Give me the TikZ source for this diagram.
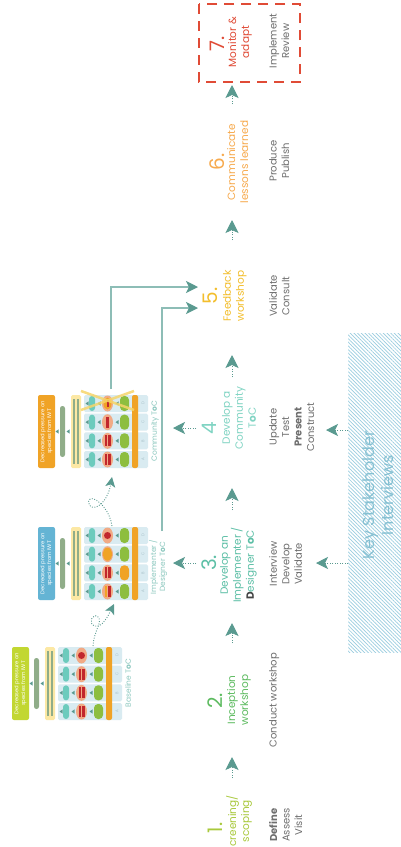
\documentclass[tikz,border=0pt]{standalone}
\usepackage{fontspec}
\setmainfont{Poppins}
\usetikzlibrary{arrows.meta,patterns.meta}
\definecolor{arrteal}{HTML}{5A9A90}
\definecolor{linecol}{HTML}{8DBDB6}
\definecolor{cone}{HTML}{A9C93C}
\definecolor{ctwo}{HTML}{5DBB60}
\definecolor{cthree}{HTML}{5CBFA6}
\definecolor{cfour}{HTML}{80D4C3}
\definecolor{cfive}{HTML}{F3BE2C}
\definecolor{csix}{HTML}{F7AA4E}
\definecolor{cseven}{HTML}{E04B36}
\definecolor{actgray}{HTML}{6E6E6E}
\definecolor{darkgray}{HTML}{444444}
\definecolor{hatchcol}{HTML}{9ACDE0}
\definecolor{ksitext}{HTML}{85C0D2}
\definecolor{toclbl}{HTML}{8CC8BF}
\definecolor{rowbg}{HTML}{D9EBF1}
\definecolor{tealpill}{HTML}{6CCBBD}
\definecolor{greenpill}{HTML}{8DBE3F}
\definecolor{salmon}{HTML}{F1AA85}
\definecolor{redc}{HTML}{C1272D}
\definecolor{orangec}{HTML}{F0A326}
\definecolor{yellowbox}{HTML}{FCE8A4}
\definecolor{bargreen}{HTML}{90AD89}
\definecolor{limebox}{HTML}{C2D732}
\definecolor{bluebox}{HTML}{64B4D4}
\definecolor{lettergray}{HTML}{A9C2CA}
\definecolor{crossy}{HTML}{F6D56A}

\newcommand{\tocTri}[2]{\fill[arrteal] ({#1},{#2}) -- ({#1+3.2},{#2-2.2}) -- ({#1+3.2},{#2+2.2}) -- cycle;}
\newcommand{\tocRow}[5]{%
  \fill[rowbg, rounded corners=1.5pt] ({#1},{#2}) rectangle ({#1+64},{#2+17});
  \fill[tealpill, rounded corners=3pt] ({#1+5},{#2+1}) rectangle ({#1+11},{#2+16});
  \fill[#4, rounded corners=4pt] ({#1+36},{#2+1}) rectangle ({#1+45},{#2+16});
  \fill[salmon] ({#1+23.5},{#2+8.5}) ellipse [x radius=5.5pt, y radius=8pt];
  \tocTri{#1+1.5}{#2+8.5}\tocTri{#1+13.5}{#2+8.5}\tocTri{#1+31.5}{#2+8.5}
  \node[rt, font=\fontsize{4}{4}\selectfont, text=lettergray] (#5#3) at ({#1+59},{#2+8.5}) {#3};
}
\newcommand{\hRedDot}[2]{\fill[redc] ({#1+23.5},{#2+8.5}) circle [radius=3.5pt];}
\newcommand{\hTwoBars}[2]{\fill[redc] ({#1+20.5},{#2+3}) rectangle ({#1+22.8},{#2+14}); \fill[redc] ({#1+24.2},{#2+3}) rectangle ({#1+26.5},{#2+14});}
\newcommand{\hOneBar}[2]{\fill[redc] ({#1+22.4},{#2+3}) rectangle ({#1+24.6},{#2+14});}
\newcommand{\hOrange}[2]{\fill[orangec] ({#1+23.5},{#2+8.5}) ellipse [x radius=4.5pt, y radius=6.5pt];}
\newcommand{\hRedOrange}[2]{\fill[orangec] ({#1+20.5},{#2+3}) rectangle ({#1+22.8},{#2+14}); \fill[redc] ({#1+24.2},{#2+3}) rectangle ({#1+26.5},{#2+14});}
\newcommand{\hComD}[2]{\fill[orangec] ({#1+23.5},{#2+8.5}) ellipse [x radius=4pt, y radius=6pt]; \fill[redc] ({#1+22.5},{#2+5}) rectangle ({#1+24.5},{#2+12});}
\newcommand{\tocCluster}[4]{%
  \fill[#3, rounded corners=2pt] ({#1-46},{#2}) rectangle ({#1-29},{#2+73});
  \node[rt, text=white, font=\fontsize{5.3}{6.8}\selectfont] (#4lbl) at ({#1-37.5},{#2+36.5}) {Decreased pressure on\\species from IWT};
  \fill[bargreen, rounded corners=2.4pt] ({#1-24},{#2+11}) rectangle ({#1-19},{#2+62});
  \tocTri{#1-28.5}{#2+36.5}\tocTri{#1-17.5}{#2+36.5}
  \fill[yellowbox, rounded corners=1.5pt] ({#1-13},{#2}) rectangle ({#1-3},{#2+73});
  \draw[bargreen, line width=1.2pt] ({#1-10},{#2+4}) -- ({#1-10},{#2+69}) ({#1-6},{#2+4}) -- ({#1-6},{#2+69});
  \fill[orangec, rounded corners=2pt] ({#1+48},{#2}) rectangle ({#1+54},{#2+73});
}

\begin{document}
\begin{tikzpicture}[x=1pt,y=-1pt,
  rt/.style={rotate=90, inner sep=0pt, align=center},
  numlbl/.style={rt, anchor=north, font=\fontsize{20}{20}\selectfont},
  ttl/.style={rt, anchor=north, font=\fontsize{10.5}{13}\selectfont},
  act/.style={rt, anchor=north, font=\fontsize{10}{12.5}\selectfont, text=actgray},
  tlbl/.style={rt, font=\fontsize{7.5}{9}\selectfont, text=toclbl},
  flow/.style={arrteal, line width=0.9pt, dash pattern=on 0.9pt off 1.6pt, -{Stealth[length=13pt,width=13pt,inset=3pt]}},
  side/.style={arrteal, line width=0.9pt, dash pattern=on 0.9pt off 1.6pt, -{Stealth[length=12pt,width=12pt,inset=3pt]}},
  curl/.style={arrteal, line width=0.9pt, dash pattern=on 0.9pt off 1.6pt, -{Stealth[length=10pt,width=10pt,inset=2.5pt]}},
  feed/.style={linecol, line width=1.3pt, -{Stealth[length=12pt,width=12pt,inset=3pt,color=arrteal]}}
]
\useasboundingbox (0,0) rectangle (401,847);
\fill[white] (0,0) rectangle (401,847);

% ---------- hatched Key Stakeholder box ----------
\fill[pattern={Lines[angle=-45, distance=2.6pt, line width=0.7pt]}, pattern color=hatchcol] (348,333) rectangle (401,652);
\node[rt, anchor=north, font=\fontsize{16}{19}\selectfont, text=ksitext] (ksi) at (362,495) {Key Stakeholder\\Interviews};

% ---------- Baseline ToC ----------
\tocRow{58}{647}{D}{greenpill}{ba}\hRedDot{58}{647}
\tocRow{58}{665.67}{C}{greenpill}{ba}\hTwoBars{58}{665.67}
\tocRow{58}{684.33}{B}{greenpill}{ba}\hTwoBars{58}{684.33}
\tocRow{58}{703}{A}{greenpill}{ba}\hTwoBars{58}{703}
\tocCluster{58}{647}{limebox}{ba}
\node[tlbl] (baselbl) at (128,683) {Baseline T{\bfseries o}C};

% ---------- Implementer ToC ----------
\tocRow{84}{527}{D}{greenpill}{im}\hRedDot{84}{527}
\tocRow{84}{545.67}{C}{greenpill}{im}\hOrange{84}{545.67}
\tocRow{84}{564.33}{B}{orangec}{im}\hTwoBars{84}{564.33}
\tocRow{84}{583}{A}{greenpill}{im}\hRedOrange{84}{583}
\tocCluster{84}{527}{bluebox}{im}
\node[tlbl] (implbl) at (158,567) {Implementer /\\Designer T{\bfseries o}C};

% ---------- Community ToC ----------
\tocRow{84}{395}{D}{greenpill}{co}\hComD{84}{395}
\tocRow{84}{413.67}{C}{greenpill}{co}\hOneBar{84}{413.67}
\tocRow{84}{432.33}{B}{greenpill}{co}\hTwoBars{84}{432.33}
\tocRow{84}{451}{A}{greenpill}{co}\hTwoBars{84}{451}
\tocCluster{84}{395}{orangec}{co}
\draw[crossy, opacity=0.85, line width=2.5pt] (81,391) -- (134,410) (81,410) -- (134,391);
\node[tlbl] (comlbl) at (155,431) {Community T{\bfseries o}C};

% ---------- step titles ----------
\node[numlbl, text=cone] (n1) at (208,828) {1.};
\node[ttl, text=cone] (t1) at (226,821) {creening/\\scoping};
\node[act] (a1) at (269,825) {\textbf{Define}\\Assess\\Visit};

\node[numlbl, text=ctwo] (n2) at (208,701) {2.};
\node[ttl, text=ctwo] (t2) at (227,700) {Inception\\workshop};
\node[act] (a2) at (269,700) {Conduct workshop};

\node[numlbl, text=cthree] (n3) at (202,563) {3.};
\node[ttl, text=cthree] (t3) at (220,565) {Develop an\\Implementer /\\{\color{darkgray}\bfseries D}esigner T{\bfseries o}C};
\node[act] (a3) at (269,564) {Interview\\Develop\\Validate};

\node[numlbl, text=cfour] (n4) at (202,428) {4};
\node[ttl, text=cfour] (t4) at (222,418) {Develop a\\Community\\T{\bfseries o}C};
\node[act] (a4) at (269,427) {Update\\Test\\\textbf{Present}\\Construct};

\node[numlbl, text=cfive] (n5) at (203,296) {5.};
\node[ttl, text=cfive] (t5) at (223,296) {Feedback\\workshop};
\node[act] (a5) at (269,296) {Validate\\Consult};

\node[numlbl, text=csix] (n6) at (210,162) {6.};
\node[ttl, text=csix] (t6) at (227,162) {Communicate\\lessons learned};
\node[act] (a6) at (269,161) {Produce\\Publish};

\node[numlbl, text=cseven] (n7) at (210,44) {7.};
\node[ttl, text=cseven] (t7) at (228,42) {Monitor \&\\adapt};
\node[act] (a7) at (269,41) {Implement\\Review};
\draw[cseven, line width=1.4pt, dash pattern=on 10pt off 7pt] (199,4) rectangle (300,82);

% ---------- flow arrows ----------
\coordinate (f1s) at (232,778); \coordinate (f1e) at (232,757);
\coordinate (f2s) at (232,643); \coordinate (f2e) at (232,623);
\coordinate (f3s) at (232,510); \coordinate (f3e) at (232,488);
\coordinate (f4s) at (232,377); \coordinate (f4e) at (232,355);
\coordinate (f5s) at (232,240); \coordinate (f5e) at (232,220);
\coordinate (f6s) at (232,104); \coordinate (f6e) at (232,85);
\foreach \i in {1,...,6} \draw[flow] (f\i s) -- (f\i e);

% title -> ToC arrows
\coordinate (s3s) at (196,563); \coordinate (s3e) at (173,563);
\coordinate (s4s) at (196,428); \coordinate (s4e) at (173,428);
\draw[side] (s3s) -- (s3e);
\draw[side] (s4s) -- (s4e);

% interviews -> steps 3 and 4
\coordinate (k3s) at (348,563); \coordinate (k3e) at (316,563);
\coordinate (k4s) at (348,430); \coordinate (k4e) at (326,430);
\draw[side] (k3s) -- (k3e);
\draw[side] (k4s) -- (k4e);

% feedback connectors
\coordinate (comtop) at (111,389); \coordinate (t5a) at (198,287);
\coordinate (imptop) at (162,531); \coordinate (t5b) at (198,308);
\draw[feed] (comtop) |- (t5a);
\draw[feed] (imptop) |- (t5b);

% curly dotted connectors between ToCs
\coordinate (c1s) at (93,646); \coordinate (c1e) at (114,604);
\draw[curl] (c1s) .. controls (94,630) and (103,622) .. (98,617) .. controls (93,612) and (87,624) .. (95,626) .. controls (102,628) and (108,616) .. (c1e);
\coordinate (c2s) at (112,526); \coordinate (c2e) at (112,477);
\draw[curl] (c2s) .. controls (110,512) and (101,502) .. (94,499) .. controls (86,496) and (87,510) .. (96,507) .. controls (104,504) and (109,494) .. (c2e);
\end{tikzpicture}
\end{document}
